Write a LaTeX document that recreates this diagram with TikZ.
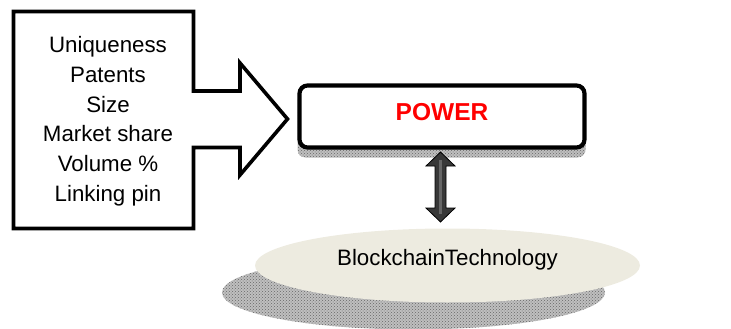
\documentclass[tikz,border=0pt]{standalone}
\usepackage{fontspec}
\setmainfont{Liberation Sans}
\usetikzlibrary{patterns,shapes.geometric}
\definecolor{discfill}{RGB}{237,235,224}
\definecolor{powerred}{RGB}{255,0,0}

\begin{document}
\begin{tikzpicture}[x=1pt,y=-1pt,
  outline/.style={draw=black,line width=3.6pt,line join=miter},
  shadowfill/.style={fill=black!25,postaction={pattern=crosshatch dots,pattern color=black!60}},
  listtext/.style={font=\fontsize{22.3}{29.8}\selectfont,inner sep=0pt,align=center},
  bodytext/.style={font=\fontsize{22.3}{26}\selectfont,inner sep=0pt},
  dblarrow/.style={draw=black,fill=black!78,line width=0.8pt,line join=miter},
]
\useasboundingbox (0,0) rectangle (731,329);

% factor list with its block arrow
\draw[outline] (13.5,11.5) -- (193.5,11.5) -- (193.5,91) -- (240,91) -- (240,63)
  -- (287.5,119) -- (240,175) -- (240,147.5) -- (193.5,147.5) -- (193.5,228.5)
  -- (13.5,228.5) -- cycle;
\node[listtext] (factors) at (108,121.2)
  {Uniqueness\\Patents\\Size\\Market share\\Volume \%\\Linking pin};

% POWER box with its shadow
\fill[shadowfill,rounded corners=8pt] (297.5,93) rectangle (585.5,157.5);
\node[draw=black,line width=4.2pt,rounded corners=8pt,fill=white,
      minimum width=285pt,minimum height=62pt,inner sep=0pt] (power) at (442,116.5) {};
\node[font=\fontsize{24.5}{28}\selectfont\bfseries,text=powerred,inner sep=0pt,anchor=base]
  (powertext) at (442,120) {POWER};

% technology disc with its shadow
\fill[shadowfill] (413.5,292.5) ellipse [x radius=191.5,y radius=37];
\node[ellipse,fill=discfill,minimum width=385pt,minimum height=74pt,inner sep=0pt]
  (tech) at (447.5,265.5) {};
\node[bodytext,anchor=base] (techtext) at (447.5,265) {BlockchainTechnology};

% two-way arrow between POWER and the disc
\draw[dblarrow] (440.5,152) -- (455,166) -- (446,166) -- (446,208) -- (455,208)
  -- (440.5,222) -- (426,208) -- (435,208) -- (435,166) -- (426,166) -- cycle;
\draw[black!60,line width=2.5pt] (440.5,160) -- (440.5,214);
\end{tikzpicture}
\end{document}
